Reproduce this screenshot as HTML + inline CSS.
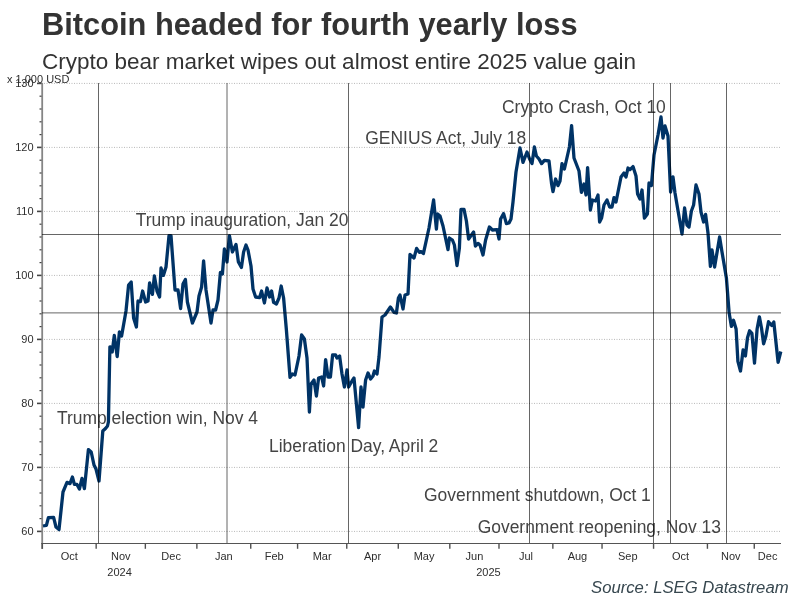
<!DOCTYPE html>
<html><head><meta charset="utf-8"><title>Bitcoin headed for fourth yearly loss</title>
<style>
html,body{margin:0;padding:0;background:#fff;}
body{width:800px;height:600px;overflow:hidden;position:relative;font-family:"Liberation Sans",Arial,sans-serif;}
svg{position:absolute;left:0;top:0;}
text{font-family:"Liberation Sans",Arial,sans-serif;}
.title{font-size:30.8px;font-weight:bold;fill:#333;}
.sub{font-size:22.5px;fill:#333;}
.ax{font-size:11px;fill:#2e2e2e;}
.ann{font-size:17.45px;fill:#444;}
.src{font-size:16.7px;font-style:italic;fill:#37474f;}
</style></head><body>
<svg width="800" height="600" viewBox="0 0 800 600">
<rect width="800" height="600" fill="#fff"/>
<text x="42" y="34.7" class="title">Bitcoin headed for fourth yearly loss</text>
<text x="42" y="69" class="sub">Crypto bear market wipes out almost entire 2025 value gain</text>
<text x="7" y="82.7" class="ax">x 1,000 USD</text>
<line x1="44" x2="781" y1="531.4" y2="531.4" stroke="#b8b8b8" stroke-width="1" stroke-dasharray="1 1.5"/>
<line x1="37" x2="42.4" y1="531.4" y2="531.4" stroke="#444" stroke-width="1.6"/>
<text x="33.6" y="534.5" text-anchor="end" class="ax">60</text>
<line x1="44" x2="781" y1="467.4" y2="467.4" stroke="#b8b8b8" stroke-width="1" stroke-dasharray="1 1.5"/>
<line x1="37" x2="42.4" y1="467.4" y2="467.4" stroke="#444" stroke-width="1.6"/>
<text x="33.6" y="470.5" text-anchor="end" class="ax">70</text>
<line x1="44" x2="781" y1="403.4" y2="403.4" stroke="#b8b8b8" stroke-width="1" stroke-dasharray="1 1.5"/>
<line x1="37" x2="42.4" y1="403.4" y2="403.4" stroke="#444" stroke-width="1.6"/>
<text x="33.6" y="406.5" text-anchor="end" class="ax">80</text>
<line x1="44" x2="781" y1="339.4" y2="339.4" stroke="#b8b8b8" stroke-width="1" stroke-dasharray="1 1.5"/>
<line x1="37" x2="42.4" y1="339.4" y2="339.4" stroke="#444" stroke-width="1.6"/>
<text x="33.6" y="342.5" text-anchor="end" class="ax">90</text>
<line x1="44" x2="781" y1="275.4" y2="275.4" stroke="#b8b8b8" stroke-width="1" stroke-dasharray="1 1.5"/>
<line x1="37" x2="42.4" y1="275.4" y2="275.4" stroke="#444" stroke-width="1.6"/>
<text x="33.6" y="278.5" text-anchor="end" class="ax">100</text>
<line x1="44" x2="781" y1="211.4" y2="211.4" stroke="#b8b8b8" stroke-width="1" stroke-dasharray="1 1.5"/>
<line x1="37" x2="42.4" y1="211.4" y2="211.4" stroke="#444" stroke-width="1.6"/>
<text x="33.6" y="214.5" text-anchor="end" class="ax">110</text>
<line x1="44" x2="781" y1="147.4" y2="147.4" stroke="#b8b8b8" stroke-width="1" stroke-dasharray="1 1.5"/>
<line x1="37" x2="42.4" y1="147.4" y2="147.4" stroke="#444" stroke-width="1.6"/>
<text x="33.6" y="150.5" text-anchor="end" class="ax">120</text>
<line x1="44" x2="781" y1="83.4" y2="83.4" stroke="#b8b8b8" stroke-width="1" stroke-dasharray="1 1.5"/>
<line x1="37" x2="42.4" y1="83.4" y2="83.4" stroke="#444" stroke-width="1.6"/>
<text x="33.6" y="86.5" text-anchor="end" class="ax">130</text>
<line x1="39.5" x2="42.4" y1="518.6" y2="518.6" stroke="#444" stroke-width="1.2"/>
<line x1="39.5" x2="42.4" y1="505.80000000000007" y2="505.80000000000007" stroke="#444" stroke-width="1.2"/>
<line x1="39.5" x2="42.4" y1="493.0" y2="493.0" stroke="#444" stroke-width="1.2"/>
<line x1="39.5" x2="42.4" y1="480.20000000000005" y2="480.20000000000005" stroke="#444" stroke-width="1.2"/>
<line x1="39.5" x2="42.4" y1="454.6" y2="454.6" stroke="#444" stroke-width="1.2"/>
<line x1="39.5" x2="42.4" y1="441.80000000000007" y2="441.80000000000007" stroke="#444" stroke-width="1.2"/>
<line x1="39.5" x2="42.4" y1="429.0" y2="429.0" stroke="#444" stroke-width="1.2"/>
<line x1="39.5" x2="42.4" y1="416.20000000000005" y2="416.20000000000005" stroke="#444" stroke-width="1.2"/>
<line x1="39.5" x2="42.4" y1="390.6" y2="390.6" stroke="#444" stroke-width="1.2"/>
<line x1="39.5" x2="42.4" y1="377.80000000000007" y2="377.80000000000007" stroke="#444" stroke-width="1.2"/>
<line x1="39.5" x2="42.4" y1="365.0" y2="365.0" stroke="#444" stroke-width="1.2"/>
<line x1="39.5" x2="42.4" y1="352.20000000000005" y2="352.20000000000005" stroke="#444" stroke-width="1.2"/>
<line x1="39.5" x2="42.4" y1="326.6" y2="326.6" stroke="#444" stroke-width="1.2"/>
<line x1="39.5" x2="42.4" y1="313.8" y2="313.8" stroke="#444" stroke-width="1.2"/>
<line x1="39.5" x2="42.4" y1="301.0" y2="301.0" stroke="#444" stroke-width="1.2"/>
<line x1="39.5" x2="42.4" y1="288.20000000000005" y2="288.20000000000005" stroke="#444" stroke-width="1.2"/>
<line x1="39.5" x2="42.4" y1="262.6" y2="262.6" stroke="#444" stroke-width="1.2"/>
<line x1="39.5" x2="42.4" y1="249.8" y2="249.8" stroke="#444" stroke-width="1.2"/>
<line x1="39.5" x2="42.4" y1="237.00000000000003" y2="237.00000000000003" stroke="#444" stroke-width="1.2"/>
<line x1="39.5" x2="42.4" y1="224.20000000000002" y2="224.20000000000002" stroke="#444" stroke-width="1.2"/>
<line x1="39.5" x2="42.4" y1="198.60000000000002" y2="198.60000000000002" stroke="#444" stroke-width="1.2"/>
<line x1="39.5" x2="42.4" y1="185.8" y2="185.8" stroke="#444" stroke-width="1.2"/>
<line x1="39.5" x2="42.4" y1="173.0" y2="173.0" stroke="#444" stroke-width="1.2"/>
<line x1="39.5" x2="42.4" y1="160.20000000000002" y2="160.20000000000002" stroke="#444" stroke-width="1.2"/>
<line x1="39.5" x2="42.4" y1="134.60000000000002" y2="134.60000000000002" stroke="#444" stroke-width="1.2"/>
<line x1="39.5" x2="42.4" y1="121.80000000000001" y2="121.80000000000001" stroke="#444" stroke-width="1.2"/>
<line x1="39.5" x2="42.4" y1="109.0" y2="109.0" stroke="#444" stroke-width="1.2"/>
<line x1="39.5" x2="42.4" y1="96.2" y2="96.2" stroke="#444" stroke-width="1.2"/>

<line x1="42.2" x2="42.2" y1="83" y2="549" stroke="#858585" stroke-width="1.8"/>
<line x1="41.2" x2="781" y1="543.5" y2="543.5" stroke="#555" stroke-width="1.15"/>
<line x1="42.3" x2="42.3" y1="543.5" y2="548.8" stroke="#505050" stroke-width="1.4"/>
<line x1="96.166" x2="96.166" y1="543.5" y2="548.8" stroke="#505050" stroke-width="1.4"/>
<line x1="145.348" x2="145.348" y1="543.5" y2="548.8" stroke="#505050" stroke-width="1.4"/>
<line x1="196.872" x2="196.872" y1="543.5" y2="548.8" stroke="#505050" stroke-width="1.4"/>
<line x1="250.738" x2="250.738" y1="543.5" y2="548.8" stroke="#505050" stroke-width="1.4"/>
<line x1="297.57800000000003" x2="297.57800000000003" y1="543.5" y2="548.8" stroke="#505050" stroke-width="1.4"/>
<line x1="346.76000000000005" x2="346.76000000000005" y1="543.5" y2="548.8" stroke="#505050" stroke-width="1.4"/>
<line x1="398.28400000000005" x2="398.28400000000005" y1="543.5" y2="548.8" stroke="#505050" stroke-width="1.4"/>
<line x1="449.80800000000005" x2="449.80800000000005" y1="543.5" y2="548.8" stroke="#505050" stroke-width="1.4"/>
<line x1="498.99" x2="498.99" y1="543.5" y2="548.8" stroke="#505050" stroke-width="1.4"/>
<line x1="552.856" x2="552.856" y1="543.5" y2="548.8" stroke="#505050" stroke-width="1.4"/>
<line x1="602.038" x2="602.038" y1="543.5" y2="548.8" stroke="#505050" stroke-width="1.4"/>
<line x1="653.562" x2="653.562" y1="543.5" y2="548.8" stroke="#505050" stroke-width="1.4"/>
<line x1="707.428" x2="707.428" y1="543.5" y2="548.8" stroke="#505050" stroke-width="1.4"/>
<line x1="754.268" x2="754.268" y1="543.5" y2="548.8" stroke="#505050" stroke-width="1.4"/>

<text x="135.8" y="226.3" class="ann">Trump inauguration, Jan 20</text>
<text x="365.3" y="144.4" class="ann">GENIUS Act, July 18</text>
<text x="502" y="112.6" class="ann">Crypto Crash, Oct 10</text>
<text x="57" y="423.8" class="ann">Trump election win, Nov 4</text>
<text x="269" y="452" class="ann">Liberation Day, April 2</text>
<text x="424" y="501" class="ann">Government shutdown, Oct 1</text>
<text x="477.7" y="532.5" class="ann">Government reopening, Nov 13</text>

<polyline fill="none" stroke="#003366" stroke-width="3.3" stroke-linejoin="round" stroke-linecap="butt" points="43,526 46.4,525.4 48.4,517.6 53.6,517.4 56,527 59,529.6 63,492 67,482.4 70,483.6 72.4,477 74.4,484.4 77,484.4 79.4,489 82,478.4 84.4,488.6 88.4,449.6 91.2,452 94,465 96,469 99,481 102.8,431 105.5,428.5 107.5,426 108.4,422 109.9,346.8 111.2,347.5 112.2,352 114.3,335.5 117.2,356.5 119.4,332 121.6,336 126,311 128.6,285 131.2,282 133.6,318 136.4,327 138,301 140.4,301.6 142.6,291 145.6,302 148,301 149.6,283 152.4,294.4 154.4,276 157,291 159.6,297 161,268 163.4,275.4 166,267 169,235.6 171,235.6 175,290 178,290 180.6,308.6 183,284 185.4,279.4 187.4,302 192.4,323 197,312 199,296 201.6,287 203.6,261 206,290 211,323 213,310 215.6,310 218,300 220.4,272.4 222.4,274 224.4,249 227,262 229.4,235.6 232.4,252 236,244.4 238.4,262 241.4,267.4 243.6,252 246,245 248,250 251,266 253,289 255.6,297 259.6,297.6 261.6,291 264.4,303 267,288 269.6,297 271.6,291 273.6,302.4 276.4,304 279,298 281.2,286 283.6,298 286.4,330 290,377.4 292.4,374 295,375 299,356 301.6,335 304.4,339 307,358 309.4,412 311,384 314,380 316.4,396 318.6,378 321.6,377 323.6,386 325.6,359.6 328,377 330.4,377 332.6,355 335.6,355 337,358 339.6,356 342,374 344.4,387 347,370 348.6,387 352,381 354,378 358.6,427.6 361,387 363,407 365.6,380 368,373 370.6,379 373,376 374.4,371 377,374 379,357 382,317 385,315 390.4,307 394,312.4 396.4,313 398.4,298 400,295 403,309 405,295 408,294 410,254.4 414,258 416.6,248.4 419.4,252.4 421,251.6 423.4,253.6 429,228 433.6,200 436.4,229 437.6,214 440,216 443,226 448,249.6 449.4,238 452.4,240 454.4,245 457,265.6 459.4,248 461,209.4 464,209.4 466.4,221 468.6,239 473.6,232 475.4,246 478,243.4 480,245 483,255 485.6,240 489.4,227 492.4,230 497,229.6 499,239 500.6,219 503.6,213.6 506.4,223.6 509,223 511,219 513,202 516,172 520,148 523,162.4 527,152 529.6,159 532,163.6 534.4,147 536.4,156 539,159 541.6,163.6 544.4,160.4 549,161 551.6,184 553,191.6 555.6,179 558,185.6 560,181 562,163.6 564.4,169 569.4,147 571.6,125.6 574,158 579,171 581.4,192.4 584,184 586,195 587.6,167.6 590.4,210 592.4,200 595.6,201 598,195 599.6,222 601.6,218 604,205 607,200 609.6,207 612,207 614,197.6 616,202 621,177 624,173 626,177 628,168 630,169.6 633,166.6 636,176 637.6,194 640,199 642,190 644.4,218 647.4,214 649,183 651.4,185.6 654,155 658,135 661,117 663,138 665,126 668,136 670.6,192 673,177 675,193 682,234 684.6,208 687,225 689,227 691.4,211 693.6,205 696,185 699,194 701,212 703.6,222 705.6,214.4 708,233 710.4,266.4 712,250 714.6,267 719.6,237 722,252 726.4,278 729.1,312.4 731.4,326.4 733.5,320.3 736.1,329 737.9,361.4 740.5,371 743.1,350 745.4,356 747.5,337.8 749.6,330.8 751.9,333.4 754.5,363 757.1,329 759.4,316.8 761.5,328 763.6,343.9 765.9,336 768.5,321.7 771.7,325.5 773.8,322 778.1,362.3 780.8,351.5"/>
<line x1="98.5" x2="98.5" y1="83" y2="543" stroke="#000" stroke-opacity="0.6" stroke-width="1"/>
<line x1="227.0" x2="227.0" y1="83" y2="543" stroke="#000" stroke-opacity="0.6" stroke-width="1"/>
<line x1="348.5" x2="348.5" y1="83" y2="543" stroke="#000" stroke-opacity="0.6" stroke-width="1"/>
<line x1="529.5" x2="529.5" y1="83" y2="543" stroke="#000" stroke-opacity="0.6" stroke-width="1"/>
<line x1="653.5" x2="653.5" y1="83" y2="543" stroke="#000" stroke-opacity="0.6" stroke-width="1"/>
<line x1="670.5" x2="670.5" y1="83" y2="543" stroke="#000" stroke-opacity="0.6" stroke-width="1"/>
<line x1="726.5" x2="726.5" y1="83" y2="543" stroke="#000" stroke-opacity="0.6" stroke-width="1"/>
<line x1="42" x2="781" y1="234.5" y2="234.5" stroke="#000" stroke-opacity="0.6" stroke-width="1"/>
<line x1="42" x2="781" y1="312.9" y2="312.9" stroke="#000" stroke-opacity="0.6" stroke-width="1"/>

<text x="69.233" y="559.6" text-anchor="middle" class="ax">Oct</text>
<text x="120.757" y="559.6" text-anchor="middle" class="ax">Nov</text>
<text x="171.11" y="559.6" text-anchor="middle" class="ax">Dec</text>
<text x="223.805" y="559.6" text-anchor="middle" class="ax">Jan</text>
<text x="274.158" y="559.6" text-anchor="middle" class="ax">Feb</text>
<text x="322.16900000000004" y="559.6" text-anchor="middle" class="ax">Mar</text>
<text x="372.52200000000005" y="559.6" text-anchor="middle" class="ax">Apr</text>
<text x="424.04600000000005" y="559.6" text-anchor="middle" class="ax">May</text>
<text x="474.399" y="559.6" text-anchor="middle" class="ax">Jun</text>
<text x="525.923" y="559.6" text-anchor="middle" class="ax">Jul</text>
<text x="577.447" y="559.6" text-anchor="middle" class="ax">Aug</text>
<text x="627.8" y="559.6" text-anchor="middle" class="ax">Sep</text>
<text x="680.495" y="559.6" text-anchor="middle" class="ax">Oct</text>
<text x="730.848" y="559.6" text-anchor="middle" class="ax">Nov</text>
<text x="767.634" y="559.6" text-anchor="middle" class="ax">Dec</text>

<text x="119.6" y="576.1" text-anchor="middle" class="ax">2024</text>
<text x="488.5" y="576.1" text-anchor="middle" class="ax">2025</text>
<text x="788.6" y="593.4" text-anchor="end" class="src">Source: LSEG Datastream</text>
</svg>
</body></html>
